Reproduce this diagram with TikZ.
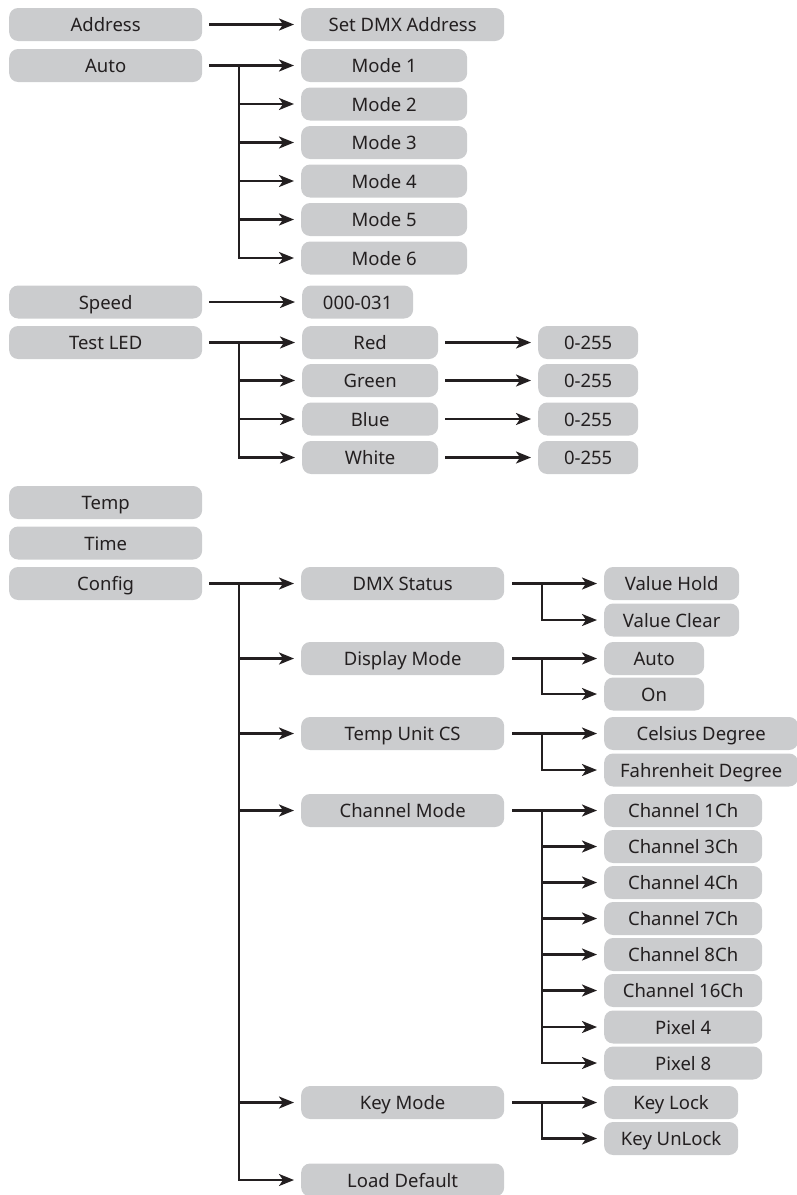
\documentclass[tikz,border=0pt]{standalone}
\usepackage{fontspec}
\setmainfont{Noto Sans}
\usepackage{tikz}
\usetikzlibrary{arrows.meta}

\definecolor{boxgray}{RGB}{203,204,206}
\definecolor{inkgray}{RGB}{35,31,32}

\begin{document}
\begin{tikzpicture}[x=1pt,y=-1pt,line width=2.3pt]

% Box and arrow styles
\tikzset{
    menu/.style={
        fill=boxgray,
        rounded corners=9pt,
        minimum height=33pt,
        inner sep=0pt,
        anchor=west,
        text=inkgray,
        text height=14pt,
        text depth=0pt,
        font=\fontsize{18.5}{22}\selectfont
    },
    arrow/.style={
        draw=inkgray,
        -{Stealth[length=15pt,width=12pt,inset=4pt]},
        shorten >=6pt
    },
}
\useasboundingbox (0,0) rectangle (797,1195);

% Main menu
\node[menu,minimum width=193pt] (address) at (8,24.5) {Address};
\node[menu,minimum width=193pt] (auto) at (8,65.5) {Auto};
\node[menu,minimum width=193pt] (speed) at (8,302) {Speed};
\node[menu,minimum width=193pt] (testled) at (8,342.5) {Test LED};
\node[menu,minimum width=193pt] (temp) at (8,502.5) {Temp};
\node[menu,minimum width=193pt] (time) at (8,543) {Time};
\node[menu,minimum width=193pt] (config) at (8,583.5) {Config};

% Second level
\node[menu,minimum width=203pt] (setdmx) at (300,24.5) {Set DMX Address};
\node[menu,minimum width=166pt] (mode1) at (300,65.5) {Mode 1};
\node[menu,minimum width=166pt] (mode2) at (300,104) {Mode 2};
\node[menu,minimum width=166pt] (mode3) at (300,142.5) {Mode 3};
\node[menu,minimum width=166pt] (mode4) at (300,181) {Mode 4};
\node[menu,minimum width=166pt] (mode5) at (300,219.5) {Mode 5};
\node[menu,minimum width=166pt] (mode6) at (300,258) {Mode 6};
\node[menu,minimum width=111pt] (speedval) at (301,302) {000-031};
\node[menu,minimum width=136pt] (red) at (301,342.5) {Red};
\node[menu,minimum width=136pt] (green) at (301,380.5) {Green};
\node[menu,minimum width=136pt] (blue) at (301,419) {Blue};
\node[menu,minimum width=136pt] (white) at (301,457.5) {White};
\node[menu,minimum width=203pt] (dmxstatus) at (300,583.5) {DMX Status};
\node[menu,minimum width=203pt] (dispmode) at (300,658.5) {Display Mode};
\node[menu,minimum width=203pt] (tempunit) at (300,733.5) {Temp Unit CS};
\node[menu,minimum width=203pt] (chanmode) at (300,810.5) {Channel Mode};
\node[menu,minimum width=203pt] (keymode) at (300,1102.5) {Key Mode};
\node[menu,minimum width=203pt] (loaddef) at (300,1180) {Load Default};

% Third level
\node[menu,minimum width=100pt] (redval) at (537,342.5) {0-255};
\node[menu,minimum width=100pt] (greenval) at (537,380.5) {0-255};
\node[menu,minimum width=100pt] (blueval) at (537,419) {0-255};
\node[menu,minimum width=100pt] (whiteval) at (537,457.5) {0-255};
\node[menu,minimum width=135pt] (valhold) at (603,583.5) {Value Hold};
\node[menu,minimum width=135pt] (valclear) at (603,620) {Value Clear};
\node[menu,minimum width=100pt] (dispauto) at (603,658.5) {Auto};
\node[menu,minimum width=100pt] (dispon) at (603,694) {On};
\node[menu,minimum width=194pt] (celsius) at (603,733.5) {Celsius Degree};
\node[menu,minimum width=194pt] (fahrenheit) at (603,770) {Fahrenheit Degree};
\node[menu,minimum width=158pt] (ch1) at (603,810.5) {Channel 1Ch};
\node[menu,minimum width=158pt] (ch3) at (603,846.5) {Channel 3Ch};
\node[menu,minimum width=158pt] (ch4) at (603,882.5) {Channel 4Ch};
\node[menu,minimum width=158pt] (ch7) at (603,918.5) {Channel 7Ch};
\node[menu,minimum width=158pt] (ch8) at (603,954.5) {Channel 8Ch};
\node[menu,minimum width=158pt] (ch16) at (603,990.5) {Channel 16Ch};
\node[menu,minimum width=158pt] (pix4) at (603,1027) {Pixel 4};
\node[menu,minimum width=158pt] (pix8) at (603,1063) {Pixel 8};
\node[menu,minimum width=134pt] (keylock) at (603,1102.5) {Key Lock};
\node[menu,minimum width=134pt] (keyunlock) at (603,1138.5) {Key UnLock};

% Joints of the branches
\coordinate (autojoint) at (239,65.5);
\coordinate (testjoint) at (239,342.5);
\coordinate (configjoint) at (239,583.5);
\coordinate (dmxjoint) at (542,583.5);
\coordinate (dispjoint) at (542,658.5);
\coordinate (tempjoint) at (542,733.5);
\coordinate (chanjoint) at (542,810.5);
\coordinate (keyjoint) at (542,1102.5);

% Straight arrows
\draw[arrow,shorten <=6pt] (address) -- (setdmx);
\draw[arrow,shorten <=6pt] (speed) -- (speedval);
\draw[arrow,shorten <=6pt] (red) -- (redval);
\draw[arrow,shorten <=6pt] (green) -- (greenval);
\draw[arrow,shorten <=6pt] (blue) -- (blueval);
\draw[arrow,shorten <=6pt] (white) -- (whiteval);

% Auto branch
\draw[arrow,shorten <=6pt] (auto) -- (mode1);
\draw[arrow] (autojoint |- mode2) -- (mode2);
\draw[arrow] (autojoint |- mode3) -- (mode3);
\draw[arrow] (autojoint |- mode4) -- (mode4);
\draw[arrow] (autojoint |- mode5) -- (mode5);
\draw[arrow] (autojoint) |- (mode6);

% Test LED branch
\draw[arrow,shorten <=6pt] (testled) -- (red);
\draw[arrow] (testjoint |- green) -- (green);
\draw[arrow] (testjoint |- blue) -- (blue);
\draw[arrow] (testjoint) |- (white);

% Config branch
\draw[arrow,shorten <=6pt] (config) -- (dmxstatus);
\draw[arrow] (configjoint |- dispmode) -- (dispmode);
\draw[arrow] (configjoint |- tempunit) -- (tempunit);
\draw[arrow] (configjoint |- chanmode) -- (chanmode);
\draw[arrow] (configjoint |- keymode) -- (keymode);
\draw[arrow] (configjoint) |- (loaddef);

% Config sub branches
\draw[arrow,shorten <=7pt] (dmxstatus) -- (valhold);
\draw[arrow] (dmxjoint) |- (valclear);
\draw[arrow,shorten <=7pt] (dispmode) -- (dispauto);
\draw[arrow] (dispjoint) |- (dispon);
\draw[arrow,shorten <=7pt] (tempunit) -- (celsius);
\draw[arrow] (tempjoint) |- (fahrenheit);
\draw[arrow,shorten <=7pt] (chanmode) -- (ch1);
\draw[arrow] (chanjoint |- ch3) -- (ch3);
\draw[arrow] (chanjoint |- ch4) -- (ch4);
\draw[arrow] (chanjoint |- ch7) -- (ch7);
\draw[arrow] (chanjoint |- ch8) -- (ch8);
\draw[arrow] (chanjoint |- ch16) -- (ch16);
\draw[arrow] (chanjoint |- pix4) -- (pix4);
\draw[arrow] (chanjoint) |- (pix8);
\draw[arrow,shorten <=7pt] (keymode) -- (keylock);
\draw[arrow] (keyjoint) |- (keyunlock);
\end{tikzpicture}
\end{document}
